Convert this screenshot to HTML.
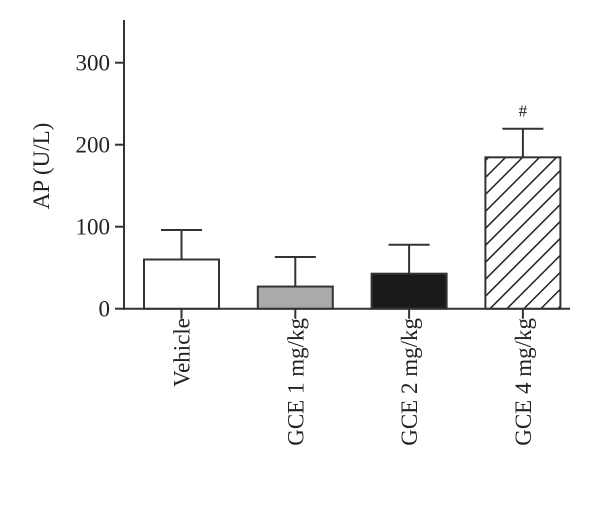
<!DOCTYPE html>
<html><head><meta charset="utf-8">
<style>
html,body{margin:0;padding:0;background:#fff;}
svg{display:block;font-family:"Liberation Serif",serif;}
</style></head>
<body>
<svg id="chart" width="600" height="513" viewBox="0 0 600 513">
<defs>
<pattern id="hatch" patternUnits="userSpaceOnUse" width="12" height="12" patternTransform="rotate(45)">
<rect width="12" height="12" fill="#fff"/>
<line x1="0" y1="0" x2="0" y2="12" stroke="#222" stroke-width="3"/>
</pattern>
</defs>
<g id="plot"></g>
</svg>
<script>
const categories = ["Vehicle", "GCE 1 mg/kg", "GCE 2 mg/kg", "GCE 4 mg/kg"];
const means = [60, 27, 42.7, 184.6];
const errorTops = [96, 63, 78, 219.5];
const markers = ["", "", "", "#"];
const yTicks = [0, 100, 200, 300];
const fills = ["#fff", "#aaa", "#1a1a1a", "url(#hatch)"];

const NS = "http://www.w3.org/2000/svg";
const g = document.getElementById("plot");
const y0 = 308.7, pxPer = 0.82;
function yScale(v){ return y0 - v*pxPer; }
const firstCenter = 181.5, step = 113.8, barW = 75;
function xScale(i){ return firstCenter + i*step; }
function mk(tag, attrs, text){
  const e = document.createElementNS(NS, tag);
  for (const k in attrs) e.setAttribute(k, attrs[k]);
  if (text !== undefined) e.textContent = text;
  g.appendChild(e);
  return e;
}
// axes
let ya = mk("line",{x1:124,y1:20,x2:124,y2:y0+1,stroke:"#333","stroke-width":2});


let xa = mk("line",{x1:123,y1:y0,x2:570,y2:y0,stroke:"#333","stroke-width":2});


yTicks.forEach(t=>{
  const y = yScale(t);
  let tk = mk("line",{x1:115,y1:y,x2:124,y2:y,stroke:"#333","stroke-width":2});
  
  
  let tl = mk("text",{x:110,y:y+8,"text-anchor":"end","font-size":23,fill:"#222"}, String(t));
  
  
});
let yt = mk("text",{x:0,y:0,"text-anchor":"middle","font-size":23,fill:"#222",transform:"translate(49,166) rotate(-90)"},"AP (U/L)");


categories.forEach((c,i)=>{
  const cx = xScale(i);
  // error bar
  let eb = mk("line",{x1:cx,y1:yScale(means[i]),x2:cx,y2:yScale(errorTops[i]),stroke:"#333","stroke-width":2});
  
  
  let cap = mk("line",{x1:cx-20.5,y1:yScale(errorTops[i]),x2:cx+20.5,y2:yScale(errorTops[i]),stroke:"#333","stroke-width":2});
  
  
  let b = mk("rect",{x:cx-barW/2,y:yScale(means[i]),width:barW,height:y0-yScale(means[i]),fill:fills[i],stroke:"#333","stroke-width":2});
  
  
  let tk = mk("line",{x1:cx,y1:y0,x2:cx,y2:y0+10,stroke:"#333","stroke-width":2});
  
  
  let lb = mk("text",{x:0,y:0,"text-anchor":"end","font-size":23,fill:"#222",transform:`translate(${cx+8},318) rotate(-90)`}, c);
  
  
  if (markers[i]) {
    let m = mk("text",{x:cx,y:yScale(errorTops[i])-12,"text-anchor":"middle","font-size":17,fill:"#222"}, markers[i]);
    
    
  }
});
</script>
</body></html>
